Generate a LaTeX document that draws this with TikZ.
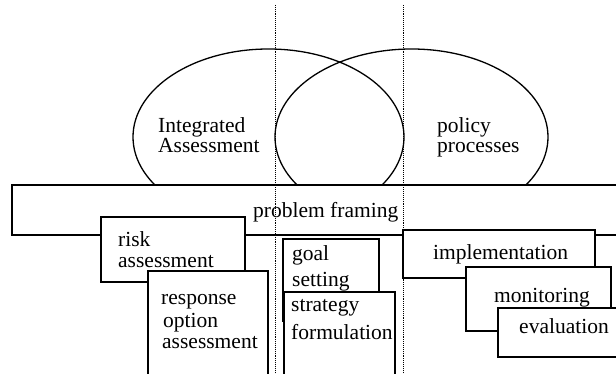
\documentclass[tikz,border=0pt]{standalone}
\usepackage{fontspec}
\setmainfont{Liberation Serif}
\usetikzlibrary{shapes.geometric}
\begin{document}
\begin{tikzpicture}[x=1pt,y=-1pt,
  every node/.style={font=\fontsize{21.5}{22}\selectfont},
  ell/.style={draw, ellipse, line width=1.3pt, inner sep=0pt, outer sep=0pt},
  box/.style={draw, fill=white, line width=1.7pt, rectangle, inner sep=0pt, outer sep=0pt, anchor=north west},
  lbl/.style={anchor=base west, inner sep=0pt},
  divider/.style={line width=0.9pt, densely dotted}]
\clip (0,0) rectangle (616,374);
\fill[white] (0,0) rectangle (616,374);
% ellipses
\node[ell, minimum width=271pt, minimum height=176pt] (ia) at (268.5,137) {};
\node[ell, minimum width=273pt, minimum height=176pt] (pp) at (411.5,137) {};
\node[lbl] (ia1) at (158,133) {Integrated};
\node[lbl] (ia2) at (158,153) {Assessment};
\node[lbl] (pp1) at (437,133) {policy};
\node[lbl] (pp2) at (437,153) {processes};
% problem framing band
\node[box, minimum width=640pt, minimum height=50pt] (pf) at (12,185) {};
\node[lbl] (pft) at (253,218) {problem framing};
% risk assessment
\node[box, minimum width=144pt, minimum height=65pt] (risk) at (101,217) {};
\node[lbl] (risk1) at (118,247) {risk};
\node[lbl] (risk2) at (118,268) {assessment};
% response option assessment
\node[box, minimum width=120pt, minimum height=110pt] (resp) at (148,271) {};
\node[lbl] (resp1) at (161,304) {response};
\node[lbl] (resp2) at (163,327) {option};
\node[lbl] (resp3) at (162,348) {assessment};
% goal setting
\node[box, minimum width=96pt, minimum height=82pt] (goal) at (283,239) {};
\node[lbl] (goal1) at (292,261) {goal};
\node[lbl] (goal2) at (292,287) {setting};
% strategy formulation
\node[box, minimum width=111pt, minimum height=90pt] (strat) at (284,292) {};
\node[lbl] (strat1) at (291,312) {strategy};
\node[lbl] (strat2) at (291,339) {formulation};
% implementation
\node[box, minimum width=192pt, minimum height=48pt] (impl) at (403,230) {};
\node[lbl] (impl1) at (433,260) {implementation};
% monitoring
\node[box, minimum width=145pt, minimum height=64pt] (mon) at (466,267) {};
\node[lbl] (mon1) at (494,302) {monitoring};
% evaluation
\node[box, minimum width=160pt, minimum height=49pt] (eval) at (498,308) {};
\node[lbl] (eval1) at (519,333) {evaluation};
% dotted dividers
\coordinate (d1t) at (275,5);
\coordinate (d1b) at (275,380);
\coordinate (d2t) at (403,5);
\coordinate (d2b) at (403,380);
\draw[divider] (d1t) -- (d1b);
\draw[divider] (d2t) -- (d2b);
\end{tikzpicture}
\end{document}
